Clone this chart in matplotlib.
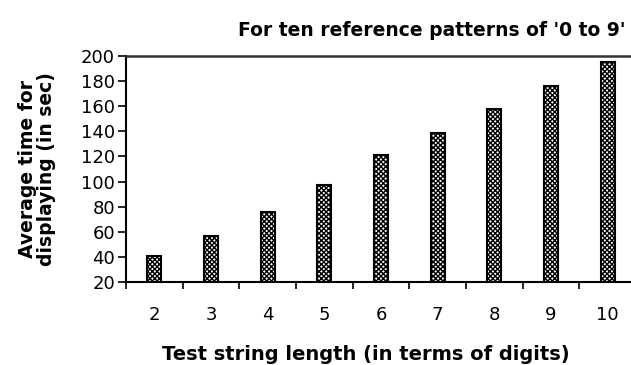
import matplotlib.pyplot as plt

lengths = ['2', '3', '4', '5', '6', '7', '8', '9', '10']
avg_time = [41, 56.5, 75.5, 97.5, 121, 138.5, 157.5, 176, 195]
yticks = [20, 40, 60, 80, 100, 120, 140, 160, 180, 200]

plt.rcParams['font.family'] = ['DejaVu Sans']
plt.rcParams['hatch.linewidth'] = 1.0

fig = plt.figure(figsize=(6.31, 3.65), dpi=100)
ax = fig.add_axes([126 / 631, 83 / 365, 510 / 631, 226 / 365])

x = range(len(lengths))
ax.bar(x, [v - 20 for v in avg_time], bottom=20, width=0.25, color='white',
       edgecolor='black', linewidth=1.5, hatch='xxxxxxx')

ax.set_xlim(-0.5, len(lengths) - 0.5)
ax.set_ylim(20, 200)
ax.set_yticks(yticks)
ax.tick_params(axis='y', labelsize=13, length=6, width=1.2, pad=2)

# ticks between categories, labels under the bars
ax.set_xticks([i + 0.5 for i in range(-1, len(lengths))])
ax.set_xticklabels([])
ax.set_xticks(list(x), minor=True)
ax.set_xticklabels(lengths, minor=True)
ax.tick_params(axis='x', which='major', length=5, width=1.2)
ax.tick_params(axis='x', which='minor', length=0, labelsize=13, pad=17)

for s in ['left', 'bottom']:
    ax.spines[s].set_linewidth(1.5)
ax.spines['top'].set_linewidth(1.8)
ax.spines['top'].set_color('#333333')

fig.text(37 / 631, 1 - 169 / 365, 'Average time for\ndisplaying (in sec)', rotation=90,
         ha='center', va='center', fontsize=13.5, fontweight='bold', linespacing=1.05)
fig.text(366 / 631, 1 - 354 / 365, 'Test string length (in terms of digits)',
         ha='center', va='center', fontsize=14, fontweight='bold')
fig.text(625 / 631, 1 - 30 / 365, "For ten reference patterns of '0 to 9'",
         ha='right', va='center', fontsize=13.5, fontweight='bold')

fig.savefig('out.png', dpi=100)
